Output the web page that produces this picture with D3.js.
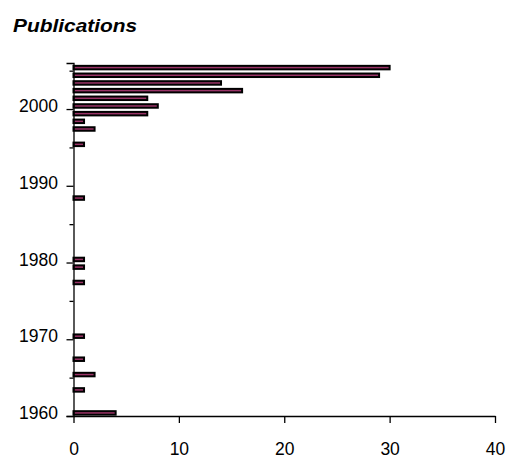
<!DOCTYPE html>
<html>
<head>
<meta charset="utf-8">
<script src="https://cdn.jsdelivr.net/npm/d3@7"></script>
<style>
  html, body { margin: 0; padding: 0; background: #fff; }
  svg { display: block; font-family: "Liberation Sans", Arial, sans-serif; }
</style>
</head>
<body>
<svg id="chart" width="506" height="459"></svg>
<script>
const title = "Publications";
const years = [1960, 1963, 1965, 1967, 1970, 1977, 1979, 1980, 1988, 1995, 1997, 1998, 1999, 2000, 2001, 2002, 2003, 2004, 2005];
const counts = [4, 1, 2, 1, 1, 1, 1, 1, 1, 1, 2, 1, 7, 8, 7, 16, 14, 29, 30];
const xTicks = [0, 10, 20, 30, 40];
const yMajorTicks = [1960, 1970, 1980, 1990, 2000];
const yMinorTicks = [1965, 1975, 1985, 1995, 2005];

const svg = d3.select("#chart");
const x = d3.scaleLinear().domain([0, 40]).range([73.5, 495]);
const y = d3.scaleLinear().domain([1960, 2006]).range([416, 63]);
const fs = 17.5;

svg.append("g").attr("transform", "translate(13,32) scale(1.1,1)")
  .append("text")
  .attr("font-size", 19).attr("font-weight", "bold").attr("font-style", "italic")
  .attr("fill", "#000")
  .text(title);

const data = years.map((yr, i) => ({ year: yr, value: counts[i] }));
const barH = 3.5;
svg.append("g").selectAll("rect").data(data).join("rect")
  .attr("x", x(0))
  .attr("y", d => y(d.year + 0.4) - barH / 2)
  .attr("width", d => x(d.value) - x(0))
  .attr("height", barH)
  .attr("fill", "#993366")
  .attr("stroke", "#000")
  .attr("stroke-width", 2);

// y axis: major ticks with labels
const yAxisMajor = d3.axisLeft(y).tickValues(yMajorTicks).tickFormat(d3.format("d"))
  .tickSize(7).tickPadding(8.5);
const gy = svg.append("g").attr("transform", `translate(${x(0)},0)`).call(yAxisMajor);
gy.select(".domain").attr("stroke", "#000").attr("stroke-width", 1.3);
gy.selectAll(".tick line").attr("stroke", "#000").attr("stroke-width", 1.3);
gy.selectAll(".tick text").attr("font-size", fs).attr("fill", "#000")
  .attr("font-family", "Liberation Sans, Arial, sans-serif")
  .attr("dy", "0.15em");

// y axis: minor ticks
const yAxisMinor = d3.axisLeft(y).tickValues(yMinorTicks).tickFormat("").tickSize(4).tickSizeOuter(0);
const gy2 = svg.append("g").attr("transform", `translate(${x(0)},0)`).call(yAxisMinor);
gy2.select(".domain").remove();
gy2.selectAll(".tick line").attr("stroke", "#000").attr("stroke-width", 1.3);

// x axis
const xAxis = d3.axisBottom(x).tickValues(xTicks).tickFormat(d3.format("d"))
  .tickSize(7).tickSizeOuter(0).tickPadding(20);
const gx = svg.append("g").attr("transform", `translate(0,${y(1960)})`).call(xAxis);
gx.select(".domain").attr("stroke", "#000").attr("stroke-width", 1.3);
gx.selectAll(".tick line").attr("stroke", "#000").attr("stroke-width", 1.3);
gx.selectAll(".tick text").attr("font-size", fs).attr("fill", "#000")
  .attr("font-family", "Liberation Sans, Arial, sans-serif");
</script>
</body>
</html>
